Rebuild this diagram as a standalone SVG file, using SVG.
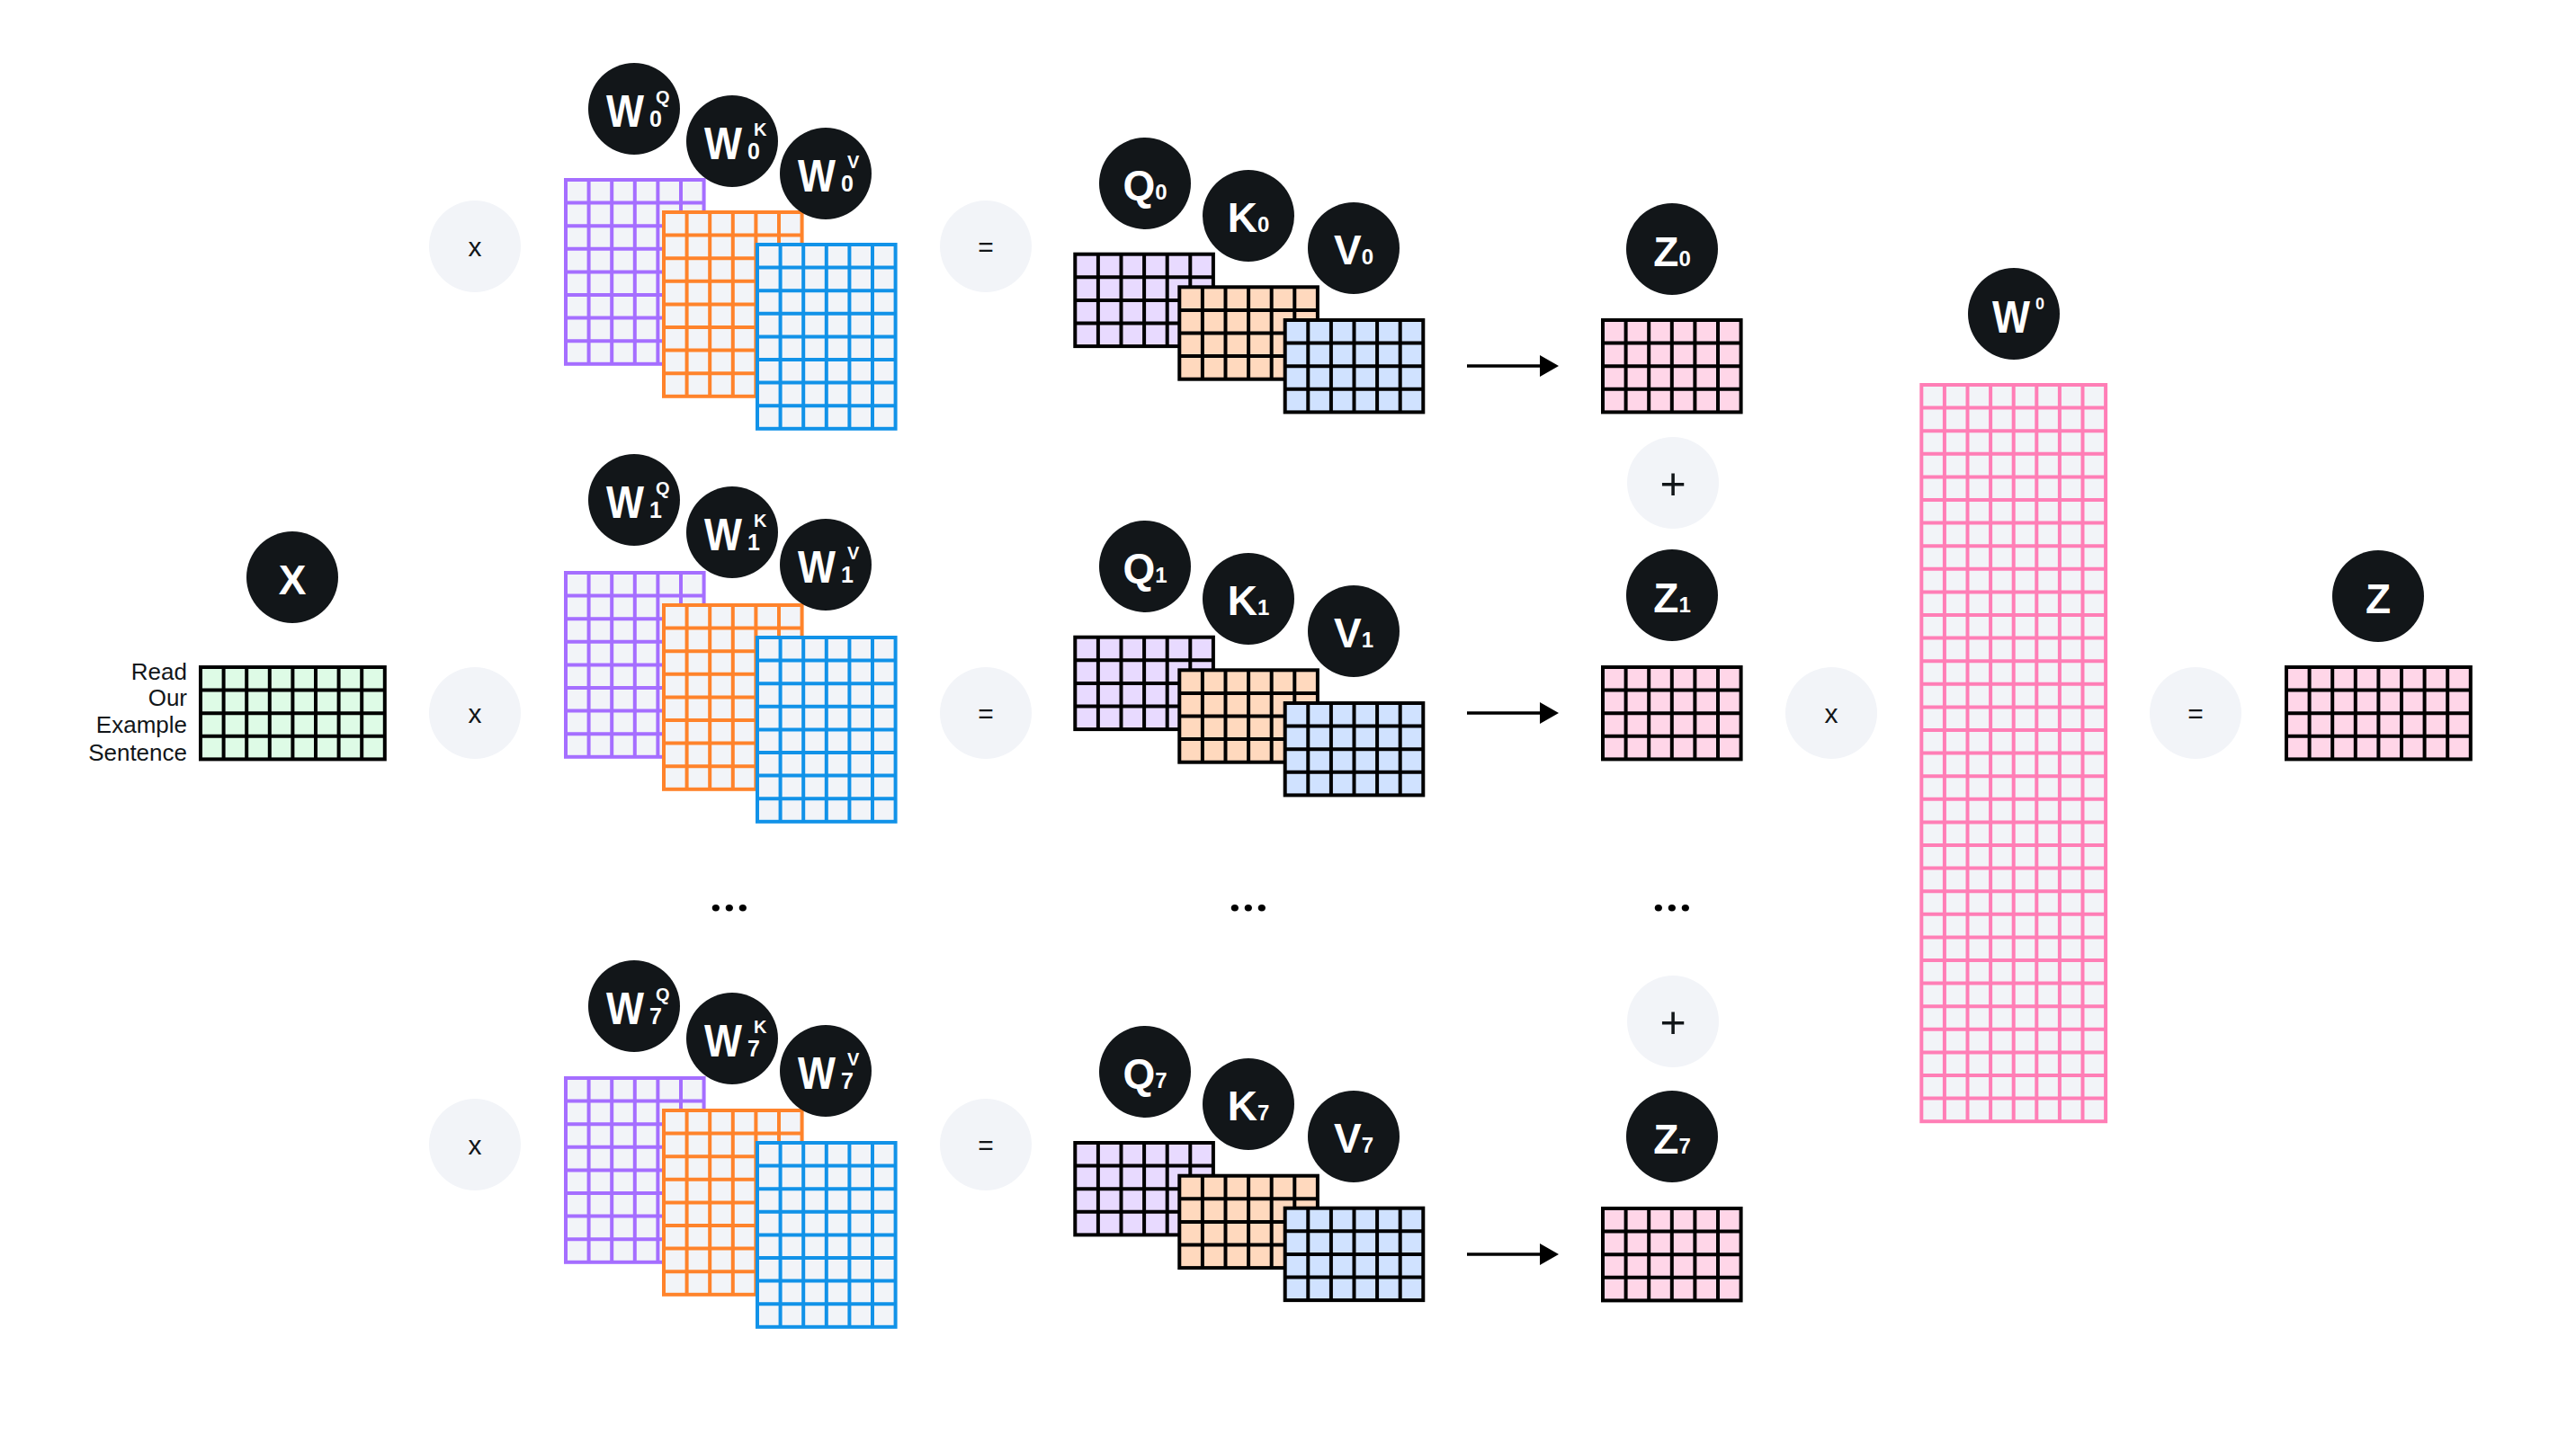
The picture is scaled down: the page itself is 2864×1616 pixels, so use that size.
<svg xmlns="http://www.w3.org/2000/svg" xmlns:xlink="http://www.w3.org/1999/xlink" width="2864" height="1616" viewBox="0 0 2864 1616">
<style>
.nc{fill:#121619}
.op{fill:#f2f4f8}
.lbl{font-family:"Liberation Sans",Arial,sans-serif;font-weight:bold;fill:#ffffff;font-size:46px}
.wl{font-family:"Liberation Sans",Arial,sans-serif;font-weight:bold;fill:#ffffff;font-size:50px}
.sub{font-size:24px}
.ws{font-family:"Liberation Sans",Arial,sans-serif;font-weight:bold;fill:#ffffff;font-size:25px}
.wp{font-family:"Liberation Sans",Arial,sans-serif;font-weight:bold;fill:#ffffff;font-size:20px}
.opt{font-family:"Liberation Sans",Arial,sans-serif;font-size:30px;fill:#121619;text-anchor:middle}
.plus{font-family:"Liberation Sans",Arial,sans-serif;font-size:50px;fill:#121619;text-anchor:middle}
.dots{font-family:Roboto,"Liberation Sans",sans-serif;font-weight:bold;font-size:52px;fill:#000;text-anchor:middle}
.word{font-family:"Liberation Sans",Arial,sans-serif;font-size:26px;fill:#121619;text-anchor:end}
.g{stroke-width:4}
.pu{fill:#f2f4f8;stroke:#a56eff}
.or{fill:#f2f4f8;stroke:#ff832b}
.bl{fill:#f2f4f8;stroke:#1192e8}
.pk{fill:#f2f4f8;stroke:#ff7eb6}
.qf{fill:#e8daff;stroke:#000}
.kf{fill:#ffd9be;stroke:#000}
.vf{fill:#d0e2ff;stroke:#000}
.zf{fill:#ffd6e8;stroke:#000}
.xf{fill:#defbe6;stroke:#000}
</style>
<defs>
<g id="m6x8"><rect width="153.6" height="204.8"/><path fill="none" d="M25.6 0V204.8M51.2 0V204.8M76.8 0V204.8M102.4 0V204.8M128 0V204.8M0 25.6H153.6M0 51.2H153.6M0 76.8H153.6M0 102.4H153.6M0 128H153.6M0 153.6H153.6M0 179.2H153.6"/></g>
<g id="m6x4"><rect width="153.6" height="102.4"/><path fill="none" d="M25.6 0V102.4M51.2 0V102.4M76.8 0V102.4M102.4 0V102.4M128 0V102.4M0 25.6H153.6M0 51.2H153.6M0 76.8H153.6"/></g>
<g id="m8x4"><rect width="204.8" height="102.4"/><path fill="none" d="M25.6 0V102.4M51.2 0V102.4M76.8 0V102.4M102.4 0V102.4M128 0V102.4M153.6 0V102.4M179.2 0V102.4M0 25.6H204.8M0 51.2H204.8M0 76.8H204.8"/></g>
<g id="m8x32"><rect width="204.8" height="819.2"/><path fill="none" d="M25.6 0V819.2M51.2 0V819.2M76.8 0V819.2M102.4 0V819.2M128 0V819.2M153.6 0V819.2M179.2 0V819.2M0 25.6H204.8M0 51.2H204.8M0 76.8H204.8M0 102.4H204.8M0 128H204.8M0 153.6H204.8M0 179.2H204.8M0 204.8H204.8M0 230.4H204.8M0 256H204.8M0 281.6H204.8M0 307.2H204.8M0 332.8H204.8M0 358.4H204.8M0 384H204.8M0 409.6H204.8M0 435.2H204.8M0 460.8H204.8M0 486.4H204.8M0 512H204.8M0 537.6H204.8M0 563.2H204.8M0 588.8H204.8M0 614.4H204.8M0 640H204.8M0 665.6H204.8M0 691.2H204.8M0 716.8H204.8M0 742.4H204.8M0 768H204.8M0 793.6H204.8"/></g>
<marker id="ah" markerUnits="userSpaceOnUse" markerWidth="22" markerHeight="24" refX="0" refY="12" orient="auto" viewBox="0 0 22 24"><path d="M0 0L21 12L0 24Z" fill="#000"/></marker>
</defs>
<rect width="2864" height="1616" fill="#ffffff"/>

<!-- Input X -->
<g id="X">
<use href="#m8x4" x="223" y="742" class="g xf"/>
<circle class="nc" cx="325" cy="642" r="51"/>
<text class="lbl" x="325" y="661" text-anchor="middle">X</text>
<text class="word" x="208" y="756">Read</text>
<text class="word" x="208" y="785">Our</text>
<text class="word" x="208" y="815">Example</text>
<text class="word" x="208" y="846">Sentence</text>
</g>

<!-- operators -->
<g id="op-x0"><circle class="op" cx="528" cy="274" r="51"/><text class="opt" x="528" y="285">x</text></g>
<g id="op-x1"><circle class="op" cx="528" cy="793" r="51"/><text class="opt" x="528" y="804">x</text></g>
<g id="op-x7"><circle class="op" cx="528" cy="1273" r="51"/><text class="opt" x="528" y="1284">x</text></g>
<g id="op-eq0"><circle class="op" cx="1096" cy="274" r="51"/><text class="opt" x="1096" y="285">=</text></g>
<g id="op-eq1"><circle class="op" cx="1096" cy="793" r="51"/><text class="opt" x="1096" y="804">=</text></g>
<g id="op-eq7"><circle class="op" cx="1096" cy="1273" r="51"/><text class="opt" x="1096" y="1284">=</text></g>
<g id="op-plus0"><circle class="op" cx="1860" cy="537" r="51"/><text class="plus" x="1860" y="555">+</text></g>
<g id="op-plus7"><circle class="op" cx="1860" cy="1136" r="51"/><text class="plus" x="1860" y="1154">+</text></g>
<g id="op-x-out"><circle class="op" cx="2036" cy="793" r="51"/><text class="opt" x="2036" y="804">x</text></g>
<g id="op-eq-out"><circle class="op" cx="2441" cy="793" r="51"/><text class="opt" x="2441" y="804">=</text></g>

<!-- Head 0 weights -->
<g id="W0Q"><use href="#m6x8" x="629" y="200" class="g pu"/><circle class="nc" cx="705" cy="121" r="51"/><text class="wl" x="674" y="141" textLength="42" lengthAdjust="spacingAndGlyphs">W</text><text class="ws" x="722" y="141">0</text><text class="wp" x="729" y="115">Q</text></g>
<g id="W0K"><use href="#m6x8" x="738" y="236" class="g or"/><circle class="nc" cx="814" cy="157" r="51"/><text class="wl" x="783" y="177" textLength="42" lengthAdjust="spacingAndGlyphs">W</text><text class="ws" x="831" y="177">0</text><text class="wp" x="838" y="151">K</text></g>
<g id="W0V"><use href="#m6x8" x="842" y="272" class="g bl"/><circle class="nc" cx="918" cy="193" r="51"/><text class="wl" x="887" y="213" textLength="42" lengthAdjust="spacingAndGlyphs">W</text><text class="ws" x="935" y="213">0</text><text class="wp" x="942" y="187">V</text></g>

<!-- Head 1 weights -->
<g id="W1Q"><use href="#m6x8" x="629" y="637" class="g pu"/><circle class="nc" cx="705" cy="556" r="51"/><text class="wl" x="674" y="576" textLength="42" lengthAdjust="spacingAndGlyphs">W</text><text class="ws" x="722" y="576">1</text><text class="wp" x="729" y="550">Q</text></g>
<g id="W1K"><use href="#m6x8" x="738" y="673" class="g or"/><circle class="nc" cx="814" cy="592" r="51"/><text class="wl" x="783" y="612" textLength="42" lengthAdjust="spacingAndGlyphs">W</text><text class="ws" x="831" y="612">1</text><text class="wp" x="838" y="586">K</text></g>
<g id="W1V"><use href="#m6x8" x="842" y="709" class="g bl"/><circle class="nc" cx="918" cy="628" r="51"/><text class="wl" x="887" y="648" textLength="42" lengthAdjust="spacingAndGlyphs">W</text><text class="ws" x="935" y="648">1</text><text class="wp" x="942" y="622">V</text></g>

<!-- Head 7 weights -->
<g id="W7Q"><use href="#m6x8" x="629" y="1199" class="g pu"/><circle class="nc" cx="705" cy="1119" r="51"/><text class="wl" x="674" y="1139" textLength="42" lengthAdjust="spacingAndGlyphs">W</text><text class="ws" x="722" y="1139">7</text><text class="wp" x="729" y="1113">Q</text></g>
<g id="W7K"><use href="#m6x8" x="738" y="1235" class="g or"/><circle class="nc" cx="814" cy="1155" r="51"/><text class="wl" x="783" y="1175" textLength="42" lengthAdjust="spacingAndGlyphs">W</text><text class="ws" x="831" y="1175">7</text><text class="wp" x="838" y="1149">K</text></g>
<g id="W7V"><use href="#m6x8" x="842" y="1271" class="g bl"/><circle class="nc" cx="918" cy="1191" r="51"/><text class="wl" x="887" y="1211" textLength="42" lengthAdjust="spacingAndGlyphs">W</text><text class="ws" x="935" y="1211">7</text><text class="wp" x="942" y="1185">V</text></g>

<!-- Head 0 QKV -->
<g id="Q0"><use href="#m6x4" x="1195.3" y="282.7" class="g qf"/><circle class="nc" cx="1273" cy="204" r="51"/><text class="lbl" x="1273" y="222" text-anchor="middle">Q<tspan class="sub">0</tspan></text></g>
<g id="K0"><use href="#m6x4" x="1311.3" y="319.3" class="g kf"/><circle class="nc" cx="1388" cy="240" r="51"/><text class="lbl" x="1388" y="258" text-anchor="middle">K<tspan class="sub">0</tspan></text></g>
<g id="V0"><use href="#m6x4" x="1428.7" y="356" class="g vf"/><circle class="nc" cx="1505" cy="276" r="51"/><text class="lbl" x="1505" y="294" text-anchor="middle">V<tspan class="sub">0</tspan></text></g>

<!-- Head 1 QKV -->
<g id="Q1"><use href="#m6x4" x="1195.3" y="708.7" class="g qf"/><circle class="nc" cx="1273" cy="630" r="51"/><text class="lbl" x="1273" y="648" text-anchor="middle">Q<tspan class="sub">1</tspan></text></g>
<g id="K1"><use href="#m6x4" x="1311.3" y="745.3" class="g kf"/><circle class="nc" cx="1388" cy="666" r="51"/><text class="lbl" x="1388" y="684" text-anchor="middle">K<tspan class="sub">1</tspan></text></g>
<g id="V1"><use href="#m6x4" x="1428.7" y="782" class="g vf"/><circle class="nc" cx="1505" cy="702" r="51"/><text class="lbl" x="1505" y="720" text-anchor="middle">V<tspan class="sub">1</tspan></text></g>

<!-- Head 7 QKV -->
<g id="Q7"><use href="#m6x4" x="1195.3" y="1271" class="g qf"/><circle class="nc" cx="1273" cy="1192" r="51"/><text class="lbl" x="1273" y="1210" text-anchor="middle">Q<tspan class="sub">7</tspan></text></g>
<g id="K7"><use href="#m6x4" x="1311.3" y="1307.7" class="g kf"/><circle class="nc" cx="1388" cy="1228" r="51"/><text class="lbl" x="1388" y="1246" text-anchor="middle">K<tspan class="sub">7</tspan></text></g>
<g id="V7"><use href="#m6x4" x="1428.7" y="1343.7" class="g vf"/><circle class="nc" cx="1505" cy="1264" r="51"/><text class="lbl" x="1505" y="1282" text-anchor="middle">V<tspan class="sub">7</tspan></text></g>

<!-- Z heads -->
<g id="Z0"><use href="#m6x4" x="1782" y="356" class="g zf"/><circle class="nc" cx="1859" cy="277" r="51"/><text class="lbl" x="1859" y="296" text-anchor="middle">Z<tspan class="sub">0</tspan></text></g>
<g id="Z1"><use href="#m6x4" x="1782" y="742" class="g zf"/><circle class="nc" cx="1859" cy="662" r="51"/><text class="lbl" x="1859" y="681" text-anchor="middle">Z<tspan class="sub">1</tspan></text></g>
<g id="Z7"><use href="#m6x4" x="1782" y="1344" class="g zf"/><circle class="nc" cx="1859" cy="1264" r="51"/><text class="lbl" x="1859" y="1283" text-anchor="middle">Z<tspan class="sub">7</tspan></text></g>

<!-- ellipses -->
<g id="dots">
<text class="dots" x="811" y="1013">...</text>
<text class="dots" x="1388" y="1013">...</text>
<text class="dots" x="1859" y="1013">...</text>
</g>

<!-- W^O -->
<g id="WO"><use href="#m8x32" x="2136.3" y="428" class="g pk"/><circle class="nc" cx="2239" cy="349" r="51"/><text class="wl" x="2215" y="370" textLength="42" lengthAdjust="spacingAndGlyphs">W</text><text class="wp" x="2263" y="344" style="font-size:18px">0</text></g>

<!-- Output Z -->
<g id="Z"><use href="#m8x4" x="2542" y="742" class="g zf"/><circle class="nc" cx="2644" cy="663" r="51"/><text class="lbl" x="2644" y="682" text-anchor="middle">Z</text></g>

<!-- connectors -->
<g id="connectors" stroke="#000" stroke-width="3.5" fill="none">
<line x1="1631" y1="407" x2="1712" y2="407" marker-end="url(#ah)"/>
<line x1="1631" y1="793" x2="1712" y2="793" marker-end="url(#ah)"/>
<line x1="1631" y1="1395" x2="1712" y2="1395" marker-end="url(#ah)"/>
</g>
</svg>
